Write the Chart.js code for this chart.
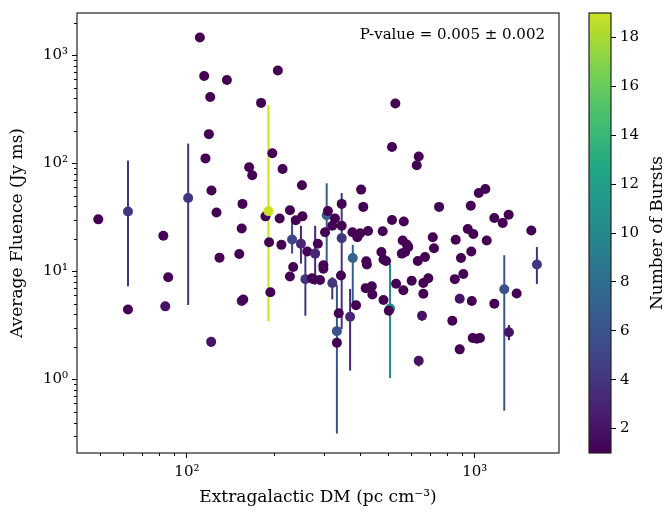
<!DOCTYPE html>
<html>
<head>
<meta charset="utf-8">
<script src="https://cdn.jsdelivr.net/npm/chart.js@4.4.1/dist/chart.umd.min.js"></script>
<style>
  html, body { margin: 0; padding: 0; background: #fff; }
  #wrap { position: relative; width: 668px; height: 521px; }
  #main { position: absolute; left: 0; top: 0; }
  #cbar { position: absolute; left: 580px; top: 0; }
</style>
</head>
<body>
<div id="wrap">
  <canvas id="main" width="580" height="521"></canvas>
  <canvas id="cbar" width="88" height="521"></canvas>
</div>
<script>
// extragalactic DM (pc cm^-3) per source
const dm = [
  49.2, 62.4, 62.4, 82.8, 84.1, 86.1, 101, 110.9, 114.8, 116,
  119.2, 120.5, 121.4, 121.7, 126.7, 129.8, 137.7, 152, 155, 155,
  157, 156, 164.5, 168.6, 181, 187.5, 192, 193, 195, 198,
  207, 210, 213, 215, 228, 228, 232, 234, 239, 249,
  251, 252, 258, 262, 272, 275, 279, 285, 290, 298,
  298, 302, 306, 309, 320, 320, 327, 332, 332, 337,
  343, 345, 345, 345, 369, 376, 377, 387, 391, 400,
  403, 410, 420, 418, 422, 426, 439, 441, 474, 479,
  482, 482, 492, 508, 503, 516, 516, 530, 533, 558,
  562, 565, 567, 573, 581, 588, 604, 629, 634, 639,
  639, 656, 663, 663, 672, 690, 715, 722, 752, 836,
  853, 859, 887, 887, 896, 913, 946, 969, 973, 977,
  984, 989, 1016, 1033, 1043, 1089, 1101, 1170, 1170, 1251,
  1267, 1312, 1315, 1399, 1573, 1645
];
// average fluence (Jy ms)
const fluence = [
  30.3, 35.8, 4.44, 21.4, 4.75, 8.84, 47.7, 1456, 641, 111,
  186, 411, 2.23, 56, 35.1, 13.4, 589, 14.5, 24.9, 5.32,
  5.5, 42.1, 91.8, 77.6, 362, 32.3, 36.1, 18.6, 6.42, 124,
  722, 30.8, 17.6, 88.5, 36.8, 8.97, 19.7, 11.0, 29.7, 18.0,
  62.6, 32.3, 8.48, 15.3, 8.65, 8.48, 14.6, 18.0, 8.34, 11.4,
  10.6, 23, 33, 36.1, 26.4, 7.8, 30.8, 2.8, 2.19, 4.1,
  9.16, 42.1, 20.3, 26.4, 3.81, 23, 13.3, 4.86, 20.7, 22.5,
  57.1, 39.5, 12.4, 7.0, 11.6, 23.6, 7.28, 6.11, 15.1, 23.5,
  12.9, 5.43, 12.5, 4.53, 4.32, 141.5, 29.9, 357, 7.69, 14.6,
  19.3, 6.69, 28.9, 15.1, 17.7, 16.8, 8.18, 95.8, 12.5, 115.6,
  1.49, 3.89, 7.8, 6.2, 13.6, 8.65, 20.7, 16.4, 39.5, 3.5,
  8.48, 19.6, 5.58, 1.9, 13.3, 9.47, 24.7, 40.4, 15.3, 5.32,
  2.42, 22.2, 2.38, 53, 2.42, 57.9, 19.3, 31.2, 5.03, 28.1,
  6.84, 33.4, 2.74, 6.24, 23.9, 11.6
];
// number of bursts (colour)
const nBursts = [
  1, 4, 1, 1, 2, 1, 4, 1, 1, 1,
  1, 1, 2, 1, 1, 1, 1, 1, 1, 2,
  1, 1, 1, 1, 1, 1, 19, 1, 1, 1,
  1, 1, 1, 1, 1, 1, 5, 1, 1, 3,
  1, 1, 4, 1, 1, 1, 3, 1, 1, 1,
  1, 1, 7, 1, 1, 4, 1, 6, 1, 1,
  1, 1, 4, 1, 3, 1, 7, 1, 1, 1,
  1, 1, 1, 1, 1, 1, 1, 1, 1, 1,
  1, 1, 1, 10, 1, 1, 1, 1, 1, 1,
  1, 1, 1, 1, 1, 1, 1, 1, 1, 1,
  2, 2, 1, 1, 1, 1, 1, 1, 1, 1,
  1, 1, 2, 1, 1, 1, 1, 1, 1, 1,
  1, 1, 1, 1, 1, 1, 1, 1, 1, 1,
  6, 1, 2, 1, 1, 4
];
// error bar lower / upper fluence (null = no bar)
const errLow = [
  null, 7.28, null, null, 4.4, null, 4.89, null, null, null,
  null, null, 2.0, null, null, null, null, null, null, 5.0,
  null, null, null, null, null, null, 3.45, null, null, null,
  null, null, null, null, null, null, 14.6, null, null, 11.8,
  null, null, 3.89, null, null, null, 7.52, null, null, null,
  null, null, 11.8, null, null, 5.5, null, 0.316, null, null,
  null, null, 2.94, null, 1.21, null, 5.1, null, null, null,
  null, null, null, null, null, null, null, null, null, null,
  null, null, null, 1.03, null, null, null, null, null, null,
  null, null, null, null, null, null, null, null, null, null,
  1.32, 3.5, null, null, null, null, null, null, null, null,
  null, null, 5.13, null, null, null, null, null, null, null,
  null, null, null, null, null, null, null, null, null, null,
  0.515, null, 2.31, null, null, 7.64
];
const errHigh = [
  null, 106, null, null, 5.1, null, 152, null, null, null,
  null, null, 2.47, null, null, null, null, null, null, 5.6,
  null, null, null, null, null, null, 347, null, null, null,
  null, null, null, null, null, null, 31.4, null, null, 26.4,
  null, null, 14.1, null, null, null, 26.4, null, null, null,
  null, null, 65.3, null, null, 8.84, null, 7.5, null, null,
  null, null, 53, null, 6.88, null, 17.6, null, null, null,
  null, null, null, null, null, null, null, null, null, null,
  null, null, null, 11.8, null, null, null, null, null, null,
  null, null, null, null, null, null, null, null, null, null,
  1.63, 4.17, null, null, null, null, null, null, null, null,
  null, null, 5.9, null, null, null, null, null, null, null,
  null, null, null, null, null, null, null, null, null, null,
  14.1, null, 3.19, null, null, 16.8
];

const xRange = [41.5, 1963];
const yRange = [0.209, 2455];
const xTickLabels = { 100: '10\u00b2', 1000: '10\u00b3' };
const yTickLabels = { 1: '10\u2070', 10: '10\u00b9', 100: '10\u00b2', 1000: '10\u00b3' };
const cRange = [1, 19];
const cbarTicks = [2, 4, 6, 8, 10, 12, 14, 16, 18];
const pValueText = 'P-value = 0.005 \u00b1 0.002';

const viridisStops = ['#440154', '#482475', '#414487', '#355f8d', '#2a788e', '#21918c',
  '#22a884', '#44bf70', '#7ad151', '#bddf26', '#fde725'];
// the reference colour bar tops out at a lime green, not the full yellow
const cmapTop = 0.92;

function hexRgb(h) {
  return [1, 3, 5].map(i => parseInt(h.slice(i, i + 2), 16));
}
function viridis(t) {
  t = Math.max(0, Math.min(1, t));
  const pos = t * (viridisStops.length - 1);
  const i = Math.min(Math.floor(pos), viridisStops.length - 2);
  const f = pos - i;
  const a = hexRgb(viridisStops[i]), b = hexRgb(viridisStops[i + 1]);
  const c = a.map((v, k) => Math.round(v + (b[k] - v) * f));
  return `rgb(${c[0]},${c[1]},${c[2]})`;
}
const colorOf = n => viridis(cmapTop * (n - cRange[0]) / (cRange[1] - cRange[0]));

function logTicks(min, max) {
  const out = [];
  for (let e = Math.floor(Math.log10(min)); e <= Math.ceil(Math.log10(max)); e++) {
    for (let k = 1; k < 10; k++) {
      const v = k * Math.pow(10, e);
      if (v >= min && v <= max) out.push({ value: v, major: k === 1 });
    }
  }
  return out;
}

const serif = 'DejaVu Serif';
const tickFont = { family: serif, size: 15 };
const titleFont = { family: serif, size: 17 };

const errorBars = {
  id: 'errorBars',
  beforeDatasetsDraw(chart) {
    const { ctx, scales: { x, y } } = chart;
    ctx.save();
    ctx.lineWidth = 2;
    dm.forEach((d, i) => {
      if (errLow[i] == null) return;
      const px = x.getPixelForValue(d);
      ctx.strokeStyle = colorOf(nBursts[i]);
      ctx.beginPath();
      ctx.moveTo(px, y.getPixelForValue(errLow[i]));
      ctx.lineTo(px, y.getPixelForValue(errHigh[i]));
      ctx.stroke();
    });
    ctx.restore();
  }
};

const frame = {
  id: 'frame',
  afterDraw(chart) {
    const { ctx, chartArea: a, scales: { x, y } } = chart;
    ctx.save();
    ctx.strokeStyle = '#000';
    ctx.lineWidth = 1;
    // minor ticks
    x.ticks.forEach(t => {
      if (t.major) return;
      const px = Math.round(x.getPixelForValue(t.value)) + 0.5;
      ctx.beginPath(); ctx.moveTo(px, a.bottom); ctx.lineTo(px, a.bottom + 3); ctx.stroke();
    });
    y.ticks.forEach(t => {
      if (t.major) return;
      const py = Math.round(y.getPixelForValue(t.value)) + 0.5;
      ctx.beginPath(); ctx.moveTo(a.left, py); ctx.lineTo(a.left - 3, py); ctx.stroke();
    });
    ctx.strokeStyle = '#222';
    ctx.lineWidth = 1.2;
    ctx.strokeRect(a.left, a.top, a.right - a.left, a.bottom - a.top);
    ctx.fillStyle = '#000';
    ctx.font = `15px "${serif}"`;
    ctx.textAlign = 'right';
    ctx.textBaseline = 'middle';
    ctx.fillText(pValueText, a.right - 14, a.top + 22);
    ctx.restore();
  }
};

new Chart(document.getElementById('main'), {
  type: 'scatter',
  data: {
    datasets: [{
      data: dm.map((d, i) => ({ x: d, y: fluence[i] })),
      pointRadius: 5,
      pointHoverRadius: 5,
      pointBorderWidth: 0,
      pointBackgroundColor: nBursts.map(colorOf)
    }]
  },
  options: {
    responsive: false,
    animation: false,
    devicePixelRatio: 1,
    layout: { padding: { left: 0, top: 5, right: 21, bottom: 0 } },
    plugins: { legend: { display: false }, tooltip: { enabled: false } },
    scales: {
      x: {
        type: 'logarithmic',
        min: xRange[0],
        max: xRange[1],
        afterBuildTicks: s => { s.ticks = logTicks(xRange[0], xRange[1]); },
        afterFit: s => { s.height = 68; },
        border: { display: false },
        grid: {
          drawOnChartArea: false, tickLength: 5, tickWidth: 1,
          tickColor: c => (c.tick && c.tick.major ? '#000' : 'rgba(0,0,0,0)')
        },
        ticks: {
          autoSkip: false, maxRotation: 0, minRotation: 0, color: '#000',
          font: tickFont, padding: 5,
          callback: v => xTickLabels[v] || ''
        },
        title: {
          display: true, text: 'Extragalactic DM (pc cm\u207b\u00b3)', color: '#000',
          font: titleFont, padding: { top: 0, bottom: 13 }
        }
      },
      y: {
        type: 'logarithmic',
        min: yRange[0],
        max: yRange[1],
        afterBuildTicks: s => { s.ticks = logTicks(yRange[0], yRange[1]); },
        afterFit: s => { s.width = 77; },
        border: { display: false },
        grid: {
          drawOnChartArea: false, tickLength: 5, tickWidth: 1,
          tickColor: c => (c.tick && c.tick.major ? '#000' : 'rgba(0,0,0,0)')
        },
        ticks: {
          autoSkip: false, color: '#000', font: tickFont, padding: 4,
          callback: v => yTickLabels[v] || ''
        },
        title: {
          display: true, text: 'Average Fluence (Jy ms)', color: '#000',
          font: titleFont, padding: { top: 7, bottom: 0 }
        }
      }
    }
  },
  plugins: [errorBars, frame]
});

const cbarDecor = {
  id: 'cbarDecor',
  afterDraw(chart) {
    const { ctx, chartArea: a } = chart;
    ctx.save();
    ctx.strokeStyle = '#222';
    ctx.lineWidth = 1.2;
    ctx.strokeRect(a.left, a.top, a.right - a.left, a.bottom - a.top);
    ctx.fillStyle = '#000';
    ctx.font = `17px "${serif}"`;
    ctx.textAlign = 'center';
    ctx.textBaseline = 'middle';
    ctx.translate(78, (a.top + a.bottom) / 2);
    ctx.rotate(-Math.PI / 2);
    ctx.fillText('Number of Bursts', 0, 0);
    ctx.restore();
  }
};

new Chart(document.getElementById('cbar'), {
  type: 'bar',
  data: {
    labels: [''],
    datasets: [{
      data: [cRange],
      barPercentage: 1,
      categoryPercentage: 1,
      borderWidth: 0,
      backgroundColor: c => {
        const area = c.chart.chartArea;
        if (!area) return '#440154';
        const g = c.chart.ctx.createLinearGradient(0, area.bottom, 0, area.top);
        for (let i = 0; i <= 20; i++) g.addColorStop(i / 20, viridis(cmapTop * i / 20));
        return g;
      }
    }]
  },
  options: {
    responsive: false,
    animation: false,
    devicePixelRatio: 1,
    layout: { padding: { left: 9, top: 5, right: 0, bottom: 68 } },
    plugins: { legend: { display: false }, tooltip: { enabled: false } },
    scales: {
      x: { display: false },
      y: {
        position: 'right',
        min: cRange[0],
        max: cRange[1],
        afterBuildTicks: s => { s.ticks = cbarTicks.map(v => ({ value: v })); },
        afterFit: s => { s.width = 57; },
        border: { display: false },
        grid: { drawOnChartArea: false, tickLength: 5, tickColor: '#000' },
        ticks: { color: '#000', font: tickFont, padding: 4 }
      }
    }
  },
  plugins: [cbarDecor]
});
</script>
</body>
</html>
